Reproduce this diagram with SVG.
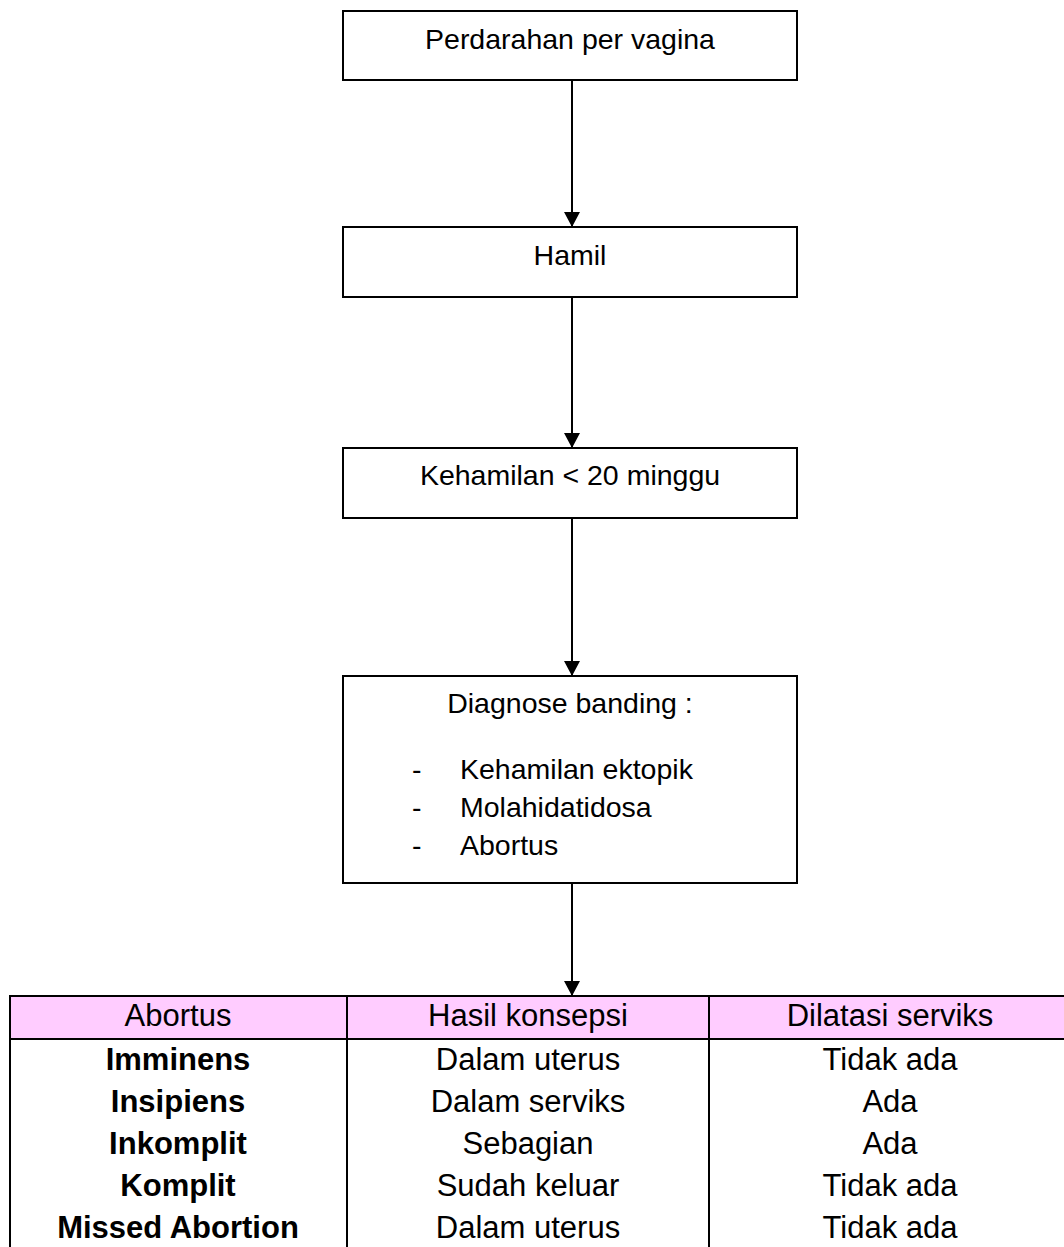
<svg xmlns="http://www.w3.org/2000/svg" width="1064" height="1247" viewBox="0 0 1064 1247">
<style>
.box{fill:#fff;stroke:#000;stroke-width:2}
.t{font-family:"Liberation Sans",Arial,sans-serif;font-size:28.5px;fill:#000}
.c{text-anchor:middle}
.tb{font-family:"Liberation Sans",Arial,sans-serif;font-size:31px;fill:#000;text-anchor:middle}
.b{font-weight:bold}
.conn{stroke:#000;stroke-width:2;fill:none}
.grid{stroke:#000;stroke-width:2;fill:none}
</style>
<defs>
<marker id="arr" markerUnits="userSpaceOnUse" markerWidth="15" markerHeight="16" viewBox="0 0 15 16" refX="15" refY="8" orient="auto">
<path d="M0,0 L15,8 L0,16 z" fill="#000"/>
</marker>
</defs>
<rect width="1064" height="1247" fill="#fff"/>
<g id="connectors">
<line class="conn" x1="572" y1="80" x2="572" y2="227" marker-end="url(#arr)"/>
<line class="conn" x1="572" y1="297" x2="572" y2="448" marker-end="url(#arr)"/>
<line class="conn" x1="572" y1="518" x2="572" y2="676" marker-end="url(#arr)"/>
<line class="conn" x1="572" y1="883" x2="572" y2="996" marker-end="url(#arr)"/>
</g>
<g id="node-perdarahan">
<rect class="box" x="343" y="11" width="454" height="69"/>
<text class="t c" x="570" y="49">Perdarahan per vagina</text>
</g>
<g id="node-hamil">
<rect class="box" x="343" y="227" width="454" height="70"/>
<text class="t c" x="570" y="265">Hamil</text>
</g>
<g id="node-kehamilan">
<rect class="box" x="343" y="448" width="454" height="70"/>
<text class="t c" x="570" y="485">Kehamilan &lt; 20 minggu</text>
</g>
<g id="node-diagnose">
<rect class="box" x="343" y="676" width="454" height="207"/>
<text class="t c" x="570" y="713">Diagnose banding :</text>
<text class="t" x="412" y="779">-</text>
<text class="t" x="460" y="779">Kehamilan ektopik</text>
<text class="t" x="412" y="817">-</text>
<text class="t" x="460" y="817">Molahidatidosa</text>
<text class="t" x="412" y="855">-</text>
<text class="t" x="460" y="855">Abortus</text>
</g>
<g id="table-abortus">
<rect x="10" y="996" width="1060" height="43" fill="#FFCCFF"/>
<rect class="grid" x="10" y="996" width="1060" height="270"/>
<line class="grid" x1="10" y1="1039" x2="1070" y2="1039"/>
<line class="grid" x1="347" y1="996" x2="347" y2="1266"/>
<line class="grid" x1="709" y1="996" x2="709" y2="1266"/>
<text class="tb" x="178" y="1026">Abortus</text>
<text class="tb" x="528" y="1026">Hasil konsepsi</text>
<text class="tb" x="890" y="1026">Dilatasi serviks</text>
<text class="tb b" x="178" y="1070">Imminens</text>
<text class="tb" x="528" y="1070">Dalam uterus</text>
<text class="tb" x="890" y="1070">Tidak ada</text>
<text class="tb b" x="178" y="1112">Insipiens</text>
<text class="tb" x="528" y="1112">Dalam serviks</text>
<text class="tb" x="890" y="1112">Ada</text>
<text class="tb b" x="178" y="1154">Inkomplit</text>
<text class="tb" x="528" y="1154">Sebagian</text>
<text class="tb" x="890" y="1154">Ada</text>
<text class="tb b" x="178" y="1196">Komplit</text>
<text class="tb" x="528" y="1196">Sudah keluar</text>
<text class="tb" x="890" y="1196">Tidak ada</text>
<text class="tb b" x="178" y="1238">Missed Abortion</text>
<text class="tb" x="528" y="1238">Dalam uterus</text>
<text class="tb" x="890" y="1238">Tidak ada</text>
</g>
</svg>
